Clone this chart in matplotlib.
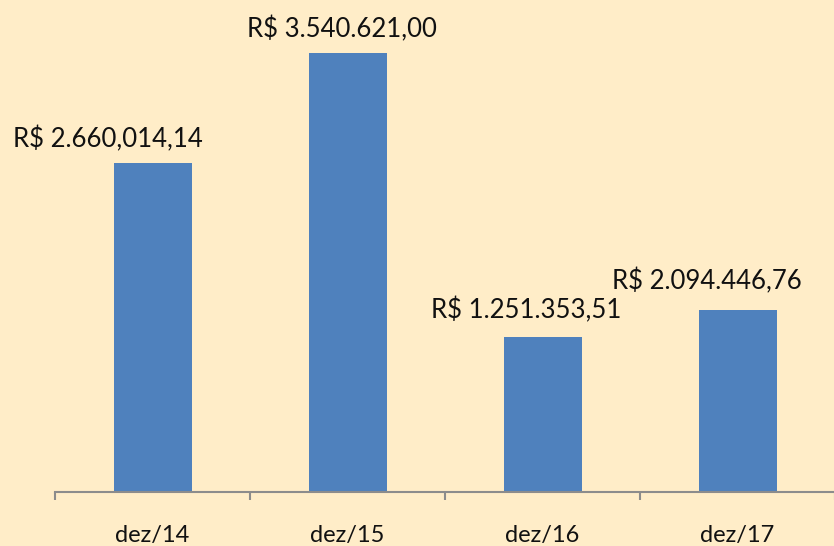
import matplotlib.pyplot as plt

periodos = ['dez/14', 'dez/15', 'dez/16', 'dez/17']
valores = [2653000, 3540621, 1251353, 1468000]
rotulos = ['R$ 2.660,014,14', 'R$ 3.540.621,00', 'R$ 1.251.353,51', 'R$ 2.094.446,76']

fundo = '#FFEDC8'
azul = '#4F81BD'
cinza = '#8C8C8C'

# deslocamento dos rotulos (pontos), como no grafico original
desloc = [(-32, 8), (-4, 8), (-11.5, 10), (-22, 11)]

plt.rcParams['font.family'] = ['Lato', 'DejaVu Sans']

fig = plt.figure(figsize=(8.34, 5.46), dpi=100)
fig.patch.set_facecolor(fundo)
ax = fig.add_axes([55 / 834, 54 / 546, 780 / 834, 492 / 546])
ax.set_facecolor(fundo)

x = range(len(periodos))
ax.bar(x, valores, width=0.4, color=azul, zorder=2)

for i, (v, r) in enumerate(zip(valores, rotulos)):
    ax.annotate(r, (i, v), xytext=desloc[i], textcoords='offset points',
                ha='center', va='bottom', fontsize=18.5, color='#111111')

ax.set_xlim(-0.5, 3.5)
ax.set_ylim(0, 3.968e6)
ax.set_yticks([])
for s in ['top', 'right', 'left']:
    ax.spines[s].set_visible(False)
ax.spines['bottom'].set_color(cinza)
ax.spines['bottom'].set_linewidth(1.5)

ax.set_xticks(list(x))
ax.set_xticklabels(periodos, fontsize=17, color='#111111')
ax.tick_params(axis='x', which='major', length=0, pad=24)
ax.set_xticks([-0.5, 0.5, 1.5, 2.5, 3.5], minor=True)
ax.tick_params(axis='x', which='minor', length=6, width=1.5, color=cinza)

plt.savefig('out.png', dpi=100, facecolor=fundo)
